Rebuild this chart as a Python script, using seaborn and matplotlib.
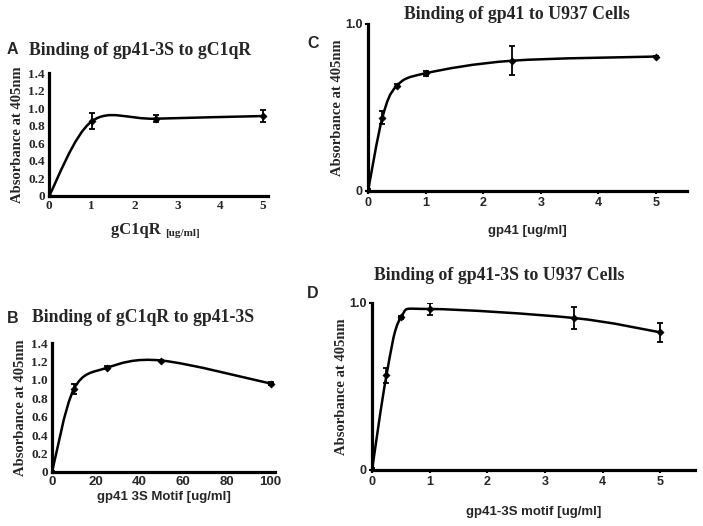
import numpy as np
import pandas as pd
import matplotlib
matplotlib.use("Agg")
import matplotlib.pyplot as plt
from matplotlib.path import Path
from matplotlib.patches import PathPatch
import seaborn as sns

# Panel A: gp41-3S binding to gC1qR
a_x = [0, 1, 2.5, 5]
a_y = [0, 0.85, 0.88, 0.91]
a_err = [0, 0.09, 0.04, 0.07]

# Panel B: gC1qR binding to gp41-3S
b_x = [0, 10, 25, 50, 100]
b_y = [0, 0.90, 1.13, 1.21, 0.96]
b_err = [0.01, 0.05, 0.015, 0.01, 0.015]

# Panel C: gp41 binding to U937 cells
c_x = [0, 0.25, 0.5, 1, 2.5, 5]
c_y = [0, 0.44, 0.63, 0.705, 0.78, 0.805]
c_err = [0.01, 0.037, 0.008, 0.015, 0.087, 0.005]

# Panel D: gp41-3S binding to U937 cells
d_x = [0, 0.25, 0.5, 1, 3.5, 5]
d_y = [0, 0.566, 0.914, 0.964, 0.91, 0.824]
d_err = [0.01, 0.045, 0.008, 0.038, 0.068, 0.058]

sns.set_theme(style="ticks")
plt.rcParams["font.family"] = ["Liberation Serif", "DejaVu Serif"]

SERIF = "Liberation Serif"
SANS = "Liberation Sans"


def smooth_path(x, y):
    # Excel-style smoothed line as cubic bezier segments in data space
    pts = np.column_stack([x, y]).astype(float)
    n = len(pts)
    verts = [pts[0]]
    codes = [Path.MOVETO]
    for i in range(n - 1):
        p0 = pts[max(i - 1, 0)]
        p1 = pts[i]
        p2 = pts[i + 1]
        p3 = pts[min(i + 2, n - 1)]
        verts += [p1 + (p2 - p0) / 6, p2 - (p3 - p1) / 6, p2]
        codes += [Path.CURVE4] * 3
    return Path(verts, codes)


def draw_curve(ax, x, y, err):
    df = pd.DataFrame({"x": x, "y": y})
    ax.add_patch(PathPatch(smooth_path(x, y), facecolor="none",
                           edgecolor="black", lw=1.8, zorder=3))
    ax.errorbar(x, y, yerr=err, fmt="none", ecolor="black",
                elinewidth=1.3, capsize=2.5, capthick=1.3, zorder=4)
    sns.scatterplot(data=df, x="x", y="y", ax=ax, color="black",
                    marker="D", s=14, edgecolor="black", zorder=5)
    ax.set_xlabel("")
    ax.set_ylabel("")
    for side in ["top", "right"]:
        ax.spines[side].set_visible(False)
    for side in ["left", "bottom"]:
        ax.spines[side].set_linewidth(2.3)
        ax.spines[side].set_color("black")


def style_ticks(ax, xfam, yfam, size):
    for lab in ax.get_xticklabels():
        lab.set_fontfamily(xfam)
        lab.set_fontweight("bold")
        lab.set_fontsize(size)
    for lab in ax.get_yticklabels():
        lab.set_fontfamily(yfam)
        lab.set_fontweight("bold")
        lab.set_fontsize(size)


fig = plt.figure(figsize=(7.03, 5.26), dpi=100)

axA = fig.add_axes([0.0697, 0.6274, 0.3115, 0.2338])
axB = fig.add_axes([0.0740, 0.1027, 0.3172, 0.2452])
axC = fig.add_axes([0.5235, 0.6369, 0.4538, 0.3175])
axD = fig.add_axes([0.5292, 0.1065, 0.4595, 0.3175])

ticks14 = [0, 0.2, 0.4, 0.6, 0.8, 1.0, 1.2, 1.4]
labels14 = ["0", "0.2", "0.4", "0.6", "0.8", "1.0", "1.2", "1.4"]

# ---- A
draw_curve(axA, a_x, a_y, a_err)
axA.set_xlim(0, 5.12)
axA.set_ylim(0, 1.4)
axA.set_xticks([0, 1, 2, 3, 4, 5])
axA.set_yticks(ticks14)
axA.set_yticklabels(labels14)
axA.tick_params(length=0, pad=3)
style_ticks(axA, SERIF, SERIF, 9.5)
axA.set_ylabel("Absorbance at 405nm", fontfamily=SERIF, fontweight="bold",
               fontsize=10.5, labelpad=3)
axA.set_title("Binding of gp41-3S to gC1qR", fontfamily=SERIF,
              fontweight="bold", fontsize=12.8, loc="left", x=-0.09, pad=13)
t = fig.text(0.158, 0.555, "gC1qR ", fontfamily=SERIF, fontweight="bold",
             fontsize=12, ha="left", va="baseline")
axA.annotate("[ug/ml]", xy=(1, 0), xycoords=t, fontfamily=SERIF,
             fontweight="bold", fontsize=8, ha="left", va="bottom")

# ---- B
draw_curve(axB, b_x, b_y, b_err)
axB.set_xlim(0, 102)
axB.set_ylim(0, 1.4)
axB.set_xticks([0, 20, 40, 60, 80, 100])
axB.set_yticks(ticks14)
axB.set_yticklabels(labels14)
axB.tick_params(length=0, pad=3)
style_ticks(axB, SANS, SERIF, 9.5)
axB.set_ylabel("Absorbance at 405nm", fontfamily=SERIF, fontweight="bold",
               fontsize=10.5, labelpad=3)
axB.set_title("Binding of gC1qR to gp41-3S", fontfamily=SERIF,
              fontweight="bold", fontsize=12.8, loc="left", x=-0.09, pad=15)
axB.set_xlabel("gp41 3S Motif [ug/ml]", fontfamily=SANS, fontweight="bold",
               fontsize=9.5, labelpad=2)

# ---- C
draw_curve(axC, c_x, c_y, c_err)
axC.set_xlim(0, 5.54)
axC.set_ylim(0, 1.0)
axC.set_xticks([0, 1, 2, 3, 4, 5])
axC.set_yticks([0, 1.0])
axC.set_yticklabels(["0", "1.0"])
axC.tick_params(length=2, width=1.5, pad=2, color="black")
style_ticks(axC, SANS, SANS, 9)
axC.set_ylabel("Absorbance at 405nm", fontfamily=SERIF, fontweight="bold",
               fontsize=10.5, labelpad=1)
axC.set_xlabel("gp41 [ug/ml]", fontfamily=SANS, fontweight="bold",
               fontsize=9.5, labelpad=12)
fig.text(0.735, 0.972, "Binding of gp41 to U937 Cells", fontfamily=SERIF,
         fontweight="bold", fontsize=12.8, ha="center", va="center")

# ---- D
draw_curve(axD, d_x, d_y, d_err)
axD.set_xlim(0, 5.6)
axD.set_ylim(0, 1.0)
axD.set_xticks([0, 1, 2, 3, 4, 5])
axD.set_yticks([0, 1.0])
axD.set_yticklabels(["0", "1.0"])
axD.tick_params(length=2, width=1.5, pad=2, color="black")
style_ticks(axD, SANS, SANS, 9)
axD.set_ylabel("Absorbance at 405nm", fontfamily=SERIF, fontweight="bold",
               fontsize=10.5, labelpad=1)
axD.set_xlabel("gp41-3S motif [ug/ml]", fontfamily=SANS, fontweight="bold",
               fontsize=9.5, labelpad=13)
fig.text(0.71, 0.477, "Binding of gp41-3S to U937 Cells", fontfamily=SERIF,
         fontweight="bold", fontsize=12.8, ha="center", va="center")

# panel letters
for lbl, x, y in [("A", 0.010, 0.905), ("B", 0.010, 0.395),
                  ("C", 0.437, 0.918), ("D", 0.437, 0.442)]:
    fig.text(x, y, lbl, fontfamily=SANS, fontweight="bold", fontsize=11.5,
             ha="left", va="center")

fig.savefig("out.png", dpi=100, facecolor="white")
